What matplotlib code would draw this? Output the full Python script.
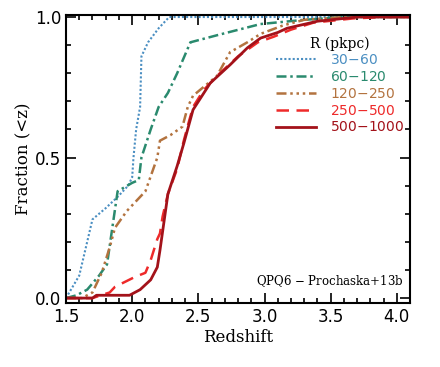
import numpy as np
import matplotlib
matplotlib.use("Agg")
import matplotlib.pyplot as plt
from matplotlib.ticker import MultipleLocator

# cumulative fraction vs redshift
z_30_60 = [1.50, 1.55, 1.60, 1.63, 1.66, 1.70, 1.80, 1.89, 1.97, 2.00, 2.01, 2.03, 2.06, 2.07, 2.12, 2.20, 2.28, 4.10]
f_30_60 = [0.00, 0.04, 0.08, 0.14, 0.20, 0.28, 0.32, 0.36, 0.40, 0.43, 0.50, 0.60, 0.68, 0.86, 0.91, 0.96, 1.00, 1.00]

z_60_120 = [1.50, 1.58, 1.66, 1.75, 1.81, 1.85, 1.89, 2.00, 2.05, 2.07, 2.14, 2.20, 2.27, 2.34, 2.44, 2.64, 2.97, 3.30, 3.60, 4.10]
f_60_120 = [0.00, 0.01, 0.03, 0.08, 0.12, 0.25, 0.38, 0.41, 0.42, 0.50, 0.60, 0.68, 0.73, 0.80, 0.91, 0.935, 0.975, 0.99, 1.00, 1.00]

z_120_250 = [1.50, 1.62, 1.70, 1.77, 1.83, 1.87, 1.96, 2.10, 2.19, 2.21, 2.29, 2.38, 2.42, 2.46, 2.64, 2.74, 2.87, 2.97, 3.14, 3.30, 3.60, 4.10]
f_120_250 = [0.00, 0.00, 0.02, 0.09, 0.18, 0.25, 0.31, 0.38, 0.50, 0.56, 0.58, 0.61, 0.68, 0.72, 0.79, 0.875, 0.91, 0.94, 0.97, 0.99, 1.00, 1.00]

z_250_500 = [1.50, 1.70, 1.83, 1.87, 2.02, 2.10, 2.14, 2.19, 2.21, 2.23, 2.27, 2.34, 2.39, 2.43, 2.46, 2.54, 2.64, 2.80, 2.95, 3.07, 3.20, 3.37, 3.67, 3.90, 4.10]
f_250_500 = [0.00, 0.00, 0.02, 0.04, 0.075, 0.09, 0.135, 0.21, 0.23, 0.29, 0.37, 0.46, 0.56, 0.63, 0.68, 0.74, 0.79, 0.86, 0.91, 0.93, 0.955, 0.98, 0.995, 1.00, 1.00]

z_500_1000 = [1.50, 1.70, 1.73, 1.98, 2.06, 2.14, 2.19, 2.21, 2.24, 2.27, 2.34, 2.39, 2.46, 2.59, 2.74, 2.87, 2.97, 3.10, 3.17, 3.40, 3.70, 4.10]
f_500_1000 = [0.00, 0.00, 0.01, 0.01, 0.03, 0.065, 0.11, 0.17, 0.27, 0.37, 0.47, 0.55, 0.67, 0.765, 0.83, 0.89, 0.925, 0.945, 0.96, 0.985, 1.00, 1.00]

labels = ["30$-$60", "60$-$120", "120$-$250", "250$-$500", "500$-$1000"]
colors = ["#4b8fc2", "#2a8a6e", "#b3733f", "#ee2a2a", "#a3121a"]
styles = [(0, (1, 1)), (0, (4, 1.5, 1, 1.5)), (0, (4, 1.5, 1, 1.5, 1, 1.5, 1, 1.5)), (0, (5, 3)), "-"]
widths = [1.5, 1.8, 1.8, 1.8, 2.0]

fig = plt.figure(figsize=(4.4, 3.67), dpi=100)
ax = fig.add_axes([0.15, 0.174, 0.782, 0.785])

data = [(z_30_60, f_30_60), (z_60_120, f_60_120), (z_120_250, f_120_250),
        (z_250_500, f_250_500), (z_500_1000, f_500_1000)]
for (z, f), lab, c, ls, lw in zip(data, labels, colors, styles, widths):
    ax.plot(z, f, color=c, ls=ls, lw=lw, label=lab)

ax.set_xlim(1.5, 4.1)
ax.set_ylim(-0.018, 1.007)
ax.xaxis.set_major_locator(MultipleLocator(0.5))
ax.xaxis.set_minor_locator(MultipleLocator(0.1))
ax.yaxis.set_major_locator(MultipleLocator(0.5))
ax.yaxis.set_minor_locator(MultipleLocator(0.1))
ax.tick_params(which="both", direction="in", top=True, right=True, width=1.2)
ax.tick_params(which="major", length=7, labelsize=12)
ax.tick_params(which="minor", length=3.5)
for s in ax.spines.values():
    s.set_linewidth(1.5)

ax.set_xlabel("Redshift", fontsize=12, family="DejaVu Serif", labelpad=2)
ax.set_ylabel("Fraction (<z)", fontsize=12, family="DejaVu Serif", labelpad=2)

leg = ax.legend(loc="upper right", bbox_to_anchor=(1.02, 0.97), frameon=False,
                fontsize=10, handlelength=2.9, handletextpad=1.0, labelspacing=0.2,
                title="R (pkpc)", title_fontsize=10)
leg.get_title().set_family("DejaVu Serif")
for t, c in zip(leg.get_texts(), colors):
    t.set_color(c)

ax.text(0.98, 0.05, "QPQ6 $-$ Prochaska+13b", transform=ax.transAxes,
        ha="right", va="bottom", fontsize=8.5, family="DejaVu Serif")

fig.savefig("out.png", dpi=100)
